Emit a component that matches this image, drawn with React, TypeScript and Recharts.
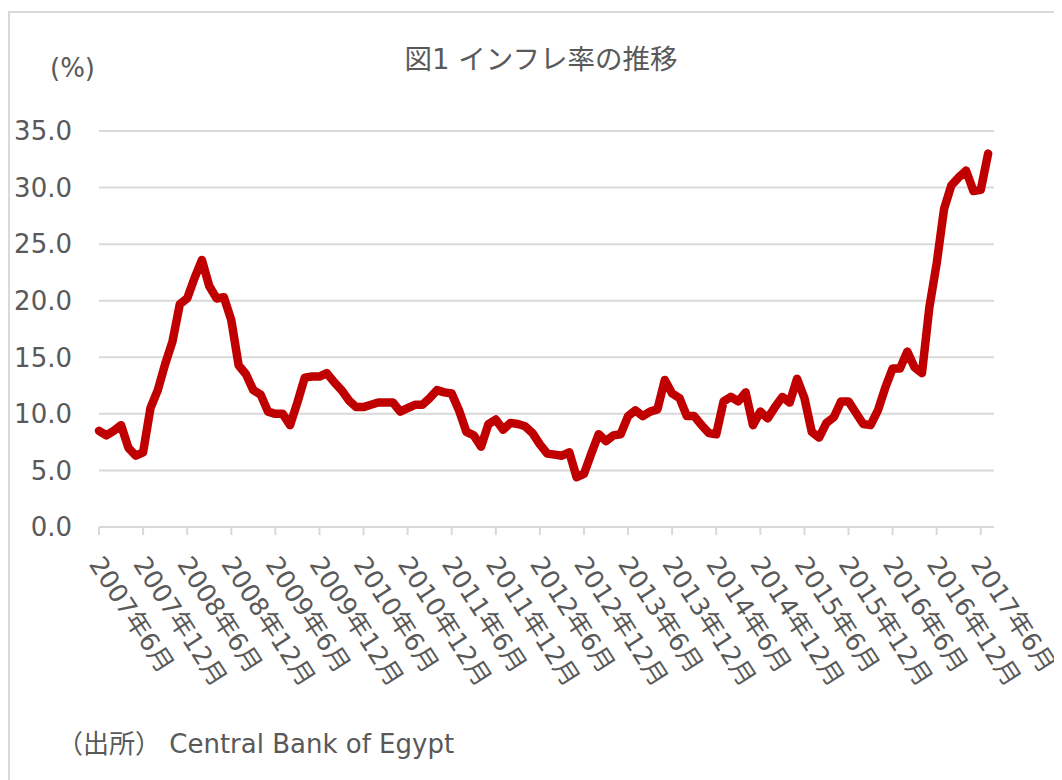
import { LineChart, Line, XAxis, YAxis, CartesianGrid } from "recharts";

// 月次インフレ率 (%), 2007年6月〜2017年7月
const inflation = [
  8.5, 8.1, 8.5, 9.0, 7.0, 6.3, 6.6, 10.5, 12.1, 14.4, 16.4, 19.7,
  20.2, 22.0, 23.6, 21.3, 20.2, 20.3, 18.3, 14.3, 13.5, 12.1, 11.7, 10.2,
  10.0, 10.0, 9.0, 11.0, 13.2, 13.3, 13.3, 13.6, 12.8, 12.1, 11.2, 10.6,
  10.6, 10.8, 11.0, 11.0, 11.0, 10.2, 10.5, 10.8, 10.8, 11.4, 12.1, 11.9,
  11.8, 10.3, 8.4, 8.1, 7.1, 9.1, 9.5, 8.6, 9.2, 9.1, 8.9, 8.3,
  7.3, 6.5, 6.4, 6.3, 6.6, 4.4, 4.7, 6.5, 8.2, 7.6, 8.1, 8.2,
  9.8, 10.3, 9.8, 10.2, 10.4, 13.0, 11.8, 11.4, 9.8, 9.8, 9.0, 8.3,
  8.2, 11.1, 11.5, 11.1, 11.9, 9.0, 10.2, 9.6, 10.6, 11.5, 11.0, 13.1,
  11.4, 8.4, 7.9, 9.2, 9.7, 11.1, 11.1, 10.1, 9.1, 9.0, 10.3, 12.3,
  14.0, 14.0, 15.5, 14.1, 13.6, 19.4, 23.3, 28.1, 30.2, 30.9, 31.5, 29.7,
  29.8, 33.0,
];

const tickLabels = [
  "2007年6月", "2007年12月", "2008年6月", "2008年12月", "2009年6月",
  "2009年12月", "2010年6月", "2010年12月", "2011年6月", "2011年12月",
  "2012年6月", "2012年12月", "2013年6月", "2013年12月", "2014年6月",
  "2014年12月", "2015年6月", "2015年12月", "2016年6月", "2016年12月",
  "2017年6月",
];
const xTicks = tickLabels.map((_, i) => i * 6);
const yTicks = [0, 5, 10, 15, 20, 25, 30, 35];

const data = inflation.map((v, i) => ({ idx: i, value: v }));

const FONT = "'DejaVu Sans', 'Noto Sans CJK JP', sans-serif";
const TEXT = "#595959";
const GRID = "#d9d9d9";

const DateTick = ({ x, y, payload }: any) => {
  const label = tickLabels[Math.round(payload.value / 6)];
  return (
    <text
      x={0}
      y={0}
      dy="0.36em"
      transform={`translate(${x - 3},${y + 24}) rotate(57)`}
      textAnchor="start"
      fill={TEXT}
      fontSize={25.5}
      fontFamily={FONT}
    >
      {label}
    </text>
  );
};

export default function App() {
  return (
    <div style={{ position: "relative", width: 1054, height: 772, overflow: "hidden", fontFamily: FONT }}>
      <div
        style={{
          position: "absolute",
          left: 0,
          top: 3,
          width: 1200,
          height: 900,
          borderLeft: `2px solid ${GRID}`,
          borderTop: `2px solid ${GRID}`,
        }}
      />
      <LineChart
        width={1054}
        height={772}
        data={data}
        margin={{ top: 123, right: 68, bottom: 53, left: 0 }}
      >
        <CartesianGrid vertical={false} stroke={GRID} strokeWidth={2} />
        <XAxis
          type="number"
          dataKey="idx"
          domain={[0, 121.8]}
          ticks={xTicks}
          interval={0}
          height={200}
          tickSize={8}
          tickMargin={0}
          axisLine={{ stroke: GRID, strokeWidth: 2 }}
          tickLine={{ stroke: GRID, strokeWidth: 2 }}
          tick={<DateTick />}
        />
        <YAxis
          type="number"
          domain={[0, 35]}
          ticks={yTicks}
          width={91}
          axisLine={false}
          tickLine={false}
          tickMargin={21}
          tickFormatter={(v: number) => v.toFixed(1)}
          tick={{ fill: TEXT, fontSize: 26, fontFamily: FONT }}
        />
        <Line
          type="linear"
          dataKey="value"
          stroke="#c00000"
          strokeWidth={8.5}
          strokeLinejoin="round"
          strokeLinecap="round"
          dot={false}
          isAnimationActive={false}
        />
      </LineChart>
      <svg
        width={1054}
        height={772}
        style={{ position: "absolute", left: 0, top: 0, pointerEvents: "none" }}
      >
        <text x={533} y={51} dy="0.35em" textAnchor="middle" fill={TEXT} fontSize={27.5} fontFamily={FONT}>
          図1 インフレ率の推移
        </text>
        <text x={42} y={60} dy="0.35em" textAnchor="start" fill={TEXT} fontSize={26} fontFamily={FONT}>
          (%)
        </text>
        <text x={49} y={736} dy="0.35em" textAnchor="start" fill={TEXT} fontSize={26} fontFamily={FONT}>
          （出所） Central Bank of Egypt
        </text>
      </svg>
    </div>
  );
}
